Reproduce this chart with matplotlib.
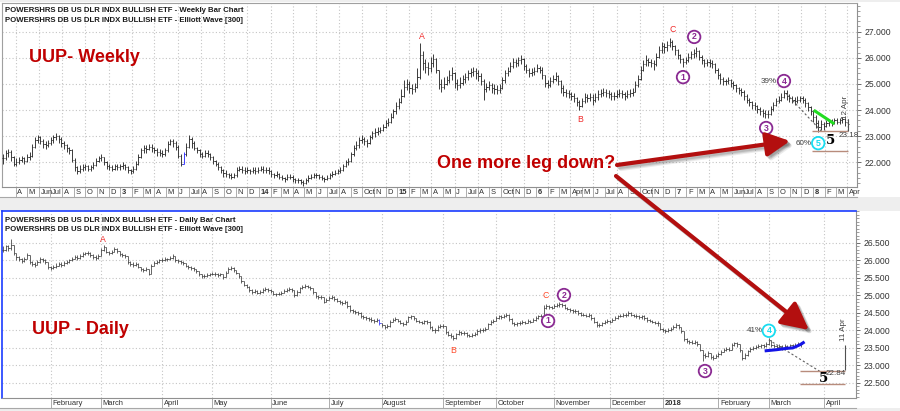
import numpy as np
import pandas as pd
import matplotlib
matplotlib.use("Agg")
import matplotlib.pyplot as plt
import matplotlib.dates as mdates
from matplotlib.patches import FancyArrowPatch, Rectangle
from matplotlib.lines import Line2D
from matplotlib.transforms import offset_copy
from matplotlib.ticker import MultipleLocator, FixedLocator, FormatStrFormatter

plt.rcParams['font.family'] = ['Liberation Sans', 'DejaVu Sans']

# ---------------- DATA ----------------
# Weekly UUP bars (one per week, starting week of 2012-02-27)
week_start = "2012-02-27"
w_close = [
22.15,22.35,22.40,22.20,21.95,22.00,22.10,22.15,22.05,22.20,
22.25,22.60,22.85,22.95,22.80,22.70,22.65,22.75,22.85,22.95,
23.00,22.90,22.75,22.65,22.55,22.45,22.10,21.80,21.65,21.75,
21.80,21.85,21.75,21.80,21.90,22.05,22.15,22.20,22.00,21.85,
21.80,21.75,21.85,21.80,21.85,21.90,21.80,21.70,21.65,21.75,
21.95,22.20,22.45,22.55,22.50,22.60,22.55,22.45,22.40,22.35,
22.30,22.45,22.70,22.80,22.75,22.60,22.25,21.95,22.30,22.60,
22.90,22.75,22.55,22.45,22.30,22.25,22.35,22.30,22.20,22.05,
21.95,21.80,21.70,21.60,21.55,21.50,21.45,21.50,21.70,21.75,
21.70,21.65,21.70,21.65,21.70,21.65,21.70,21.75,21.70,21.70,
21.65,21.55,21.50,21.55,21.45,21.40,21.35,21.45,21.45,21.35,
21.30,21.30,21.25,21.20,21.30,21.40,21.45,21.50,21.50,21.45,
21.40,21.35,21.40,21.50,21.55,21.60,21.65,21.70,21.85,22.00,
22.05,22.30,22.55,22.65,22.85,22.90,22.80,22.75,22.95,23.10,
23.15,23.20,23.25,23.35,23.50,23.55,23.75,23.95,24.15,24.30,
24.55,24.90,25.00,24.85,24.80,24.90,25.25,26.10,25.80,25.65,
25.60,25.80,25.95,25.55,25.00,24.90,25.00,25.15,25.35,25.40,
25.05,24.95,25.05,25.20,25.25,25.40,25.45,25.50,25.40,25.30,
25.10,24.80,24.90,24.95,24.85,24.80,24.75,24.85,25.15,25.40,
25.50,25.70,25.85,25.80,25.90,25.95,25.70,25.55,25.40,25.45,
25.50,25.60,25.55,25.35,25.05,24.95,25.10,25.20,25.30,25.10,
24.85,24.70,24.65,24.60,24.55,24.45,24.30,24.15,24.35,24.50,
24.45,24.50,24.40,24.50,24.60,24.65,24.70,24.65,24.60,24.55,
24.55,24.60,24.65,24.60,24.55,24.60,24.65,24.70,24.95,25.20,
25.55,25.75,25.90,25.85,25.80,25.75,26.05,26.30,26.45,26.40,
26.50,26.60,26.45,26.30,26.10,25.95,25.85,25.90,26.05,26.15,
26.20,26.25,26.05,25.90,25.80,25.85,25.80,25.75,25.55,25.35,
25.20,25.10,25.10,25.15,25.05,24.95,24.85,24.75,24.70,24.55,
24.40,24.30,24.20,24.15,24.05,23.95,23.90,23.85,23.85,24.05,
24.20,24.35,24.40,24.50,24.65,24.55,24.45,24.40,24.35,24.40,
24.45,24.40,24.25,24.10,23.95,23.75,23.50,23.35,23.45,23.40,
23.50,23.55,23.50,23.60,23.55,23.60,23.65,23.55,23.45]
w_high = [
22.30,22.45,22.50,22.45,22.25,22.15,22.20,22.25,22.20,22.30,
22.40,22.70,22.95,23.05,23.00,22.90,22.80,22.85,22.95,23.05,
23.10,23.05,22.95,22.80,22.70,22.60,22.50,22.15,21.85,21.90,
21.95,21.95,21.90,21.90,22.00,22.15,22.25,22.30,22.20,22.05,
21.95,21.90,21.95,21.95,21.95,22.00,21.95,21.85,21.75,21.85,
22.05,22.30,22.55,22.65,22.65,22.70,22.70,22.60,22.55,22.50,
22.45,22.55,22.80,22.90,22.90,22.80,22.65,22.30,22.40,22.75,
23.05,22.95,22.80,22.60,22.50,22.40,22.45,22.45,22.35,22.25,
22.10,22.00,21.85,21.75,21.70,21.60,21.60,21.60,21.80,21.85,
21.85,21.80,21.80,21.75,21.80,21.80,21.80,21.85,21.85,21.80,
21.80,21.70,21.60,21.65,21.60,21.50,21.45,21.55,21.55,21.50,
21.40,21.40,21.35,21.30,21.40,21.50,21.55,21.60,21.60,21.55,
21.50,21.45,21.50,21.60,21.65,21.70,21.75,21.80,21.95,22.10,
22.15,22.40,22.65,22.80,22.95,23.05,22.95,22.90,23.05,23.20,
23.30,23.35,23.35,23.45,23.60,23.70,23.90,24.05,24.30,24.45,
24.80,25.15,25.20,25.10,25.00,25.05,25.60,26.55,26.25,25.95,
25.85,26.05,26.15,26.00,25.55,25.20,25.25,25.30,25.55,25.65,
25.45,25.20,25.25,25.35,25.40,25.55,25.60,25.65,25.60,25.55,
25.40,25.20,25.05,25.10,25.05,25.00,24.95,25.00,25.25,25.55,
25.65,25.85,26.00,25.95,26.05,26.10,26.00,25.75,25.60,25.60,
25.65,25.75,25.70,25.65,25.35,25.15,25.25,25.35,25.45,25.35,
25.15,24.95,24.80,24.75,24.70,24.65,24.50,24.40,24.45,24.65,
24.60,24.65,24.60,24.65,24.75,24.80,24.85,24.80,24.75,24.70,
24.70,24.75,24.80,24.75,24.70,24.75,24.80,24.85,25.10,25.35,
25.70,25.90,26.10,26.00,25.95,25.90,26.20,26.45,26.60,26.55,
26.65,26.75,26.70,26.50,26.35,26.15,26.00,26.05,26.20,26.25,
26.35,26.40,26.30,26.10,25.95,25.95,25.95,25.90,25.80,25.60,
25.40,25.25,25.20,25.25,25.20,25.10,25.00,24.90,24.85,24.75,
24.60,24.45,24.35,24.30,24.20,24.10,24.05,24.00,24.00,24.15,
24.30,24.45,24.55,24.65,24.75,24.75,24.60,24.55,24.50,24.55,
24.55,24.55,24.45,24.30,24.15,24.00,23.80,23.60,23.60,23.55,
23.60,23.65,23.65,23.70,23.70,23.70,23.75,23.70,23.65]
w_low = [
21.95,22.10,22.20,22.05,21.85,21.85,21.95,22.00,21.95,22.00,
22.10,22.20,22.55,22.75,22.70,22.55,22.50,22.60,22.65,22.75,
22.85,22.75,22.60,22.50,22.40,22.30,22.00,21.65,21.55,21.60,
21.65,21.70,21.65,21.65,21.75,21.85,22.00,22.05,21.90,21.75,
21.70,21.65,21.70,21.70,21.70,21.75,21.70,21.60,21.55,21.60,
21.70,21.90,22.15,22.35,22.35,22.45,22.40,22.35,22.25,22.25,
22.20,22.25,22.40,22.65,22.60,22.45,22.15,21.85,21.95,22.25,
22.55,22.55,22.45,22.35,22.20,22.15,22.20,22.20,22.10,21.95,
21.85,21.70,21.60,21.45,21.45,21.40,21.35,21.40,21.45,21.65,
21.60,21.55,21.60,21.55,21.60,21.55,21.60,21.65,21.60,21.60,
21.55,21.45,21.40,21.45,21.35,21.30,21.25,21.30,21.35,21.25,
21.20,21.20,21.15,21.10,21.15,21.25,21.35,21.40,21.40,21.35,
21.30,21.25,21.30,21.35,21.45,21.50,21.55,21.60,21.65,21.80,
21.90,22.00,22.25,22.45,22.55,22.75,22.65,22.60,22.70,22.90,
22.95,23.05,23.10,23.20,23.30,23.40,23.50,23.70,23.85,24.05,
24.25,24.50,24.75,24.65,24.60,24.70,24.85,25.20,25.55,25.40,
25.35,25.45,25.65,25.40,24.80,24.70,24.80,24.95,25.05,25.15,
24.85,24.75,24.85,24.95,25.05,25.15,25.25,25.30,25.20,25.10,
24.95,24.40,24.70,24.75,24.65,24.60,24.60,24.65,24.80,25.05,
25.30,25.45,25.60,25.65,25.70,25.75,25.55,25.40,25.25,25.30,
25.35,25.45,25.40,25.20,24.90,24.85,24.90,25.05,25.10,24.95,
24.65,24.55,24.50,24.45,24.40,24.30,24.15,24.00,24.10,24.25,
24.30,24.35,24.20,24.30,24.40,24.50,24.55,24.50,24.45,24.40,
24.40,24.45,24.50,24.45,24.40,24.45,24.50,24.55,24.70,24.90,
25.15,25.50,25.70,25.70,25.65,25.55,25.70,26.00,26.20,26.20,
26.25,26.40,26.30,26.10,25.95,25.80,25.65,25.75,25.85,25.95,
26.00,26.05,25.90,25.75,25.65,25.70,25.65,25.60,25.40,25.20,
25.00,24.95,24.95,25.00,24.90,24.80,24.70,24.60,24.55,24.40,
24.25,24.15,24.05,24.00,23.90,23.80,23.75,23.70,23.70,23.80,
23.95,24.15,24.25,24.35,24.45,24.40,24.30,24.25,24.20,24.25,
24.30,24.25,24.10,23.95,23.80,23.55,23.30,23.15,23.25,23.25,
23.35,23.40,23.40,23.45,23.45,23.45,23.50,23.40,23.30]
w_blue_bars = [68]

w_month_labels = (
    ["A", "M", "Jun", "Jul", "A", "S", "O", "N", "D"] +
    ["3", "F", "M", "A", "M", "J", "Jul", "A", "S", "O", "N", "D"] +
    ["14", "F", "M", "A", "M", "J", "Jul", "A", "S", "Oct", "N", "D"] +
    ["15", "F", "M", "A", "M", "J", "Jul", "A", "S", "Oct", "N", "D"] +
    ["6", "F", "M", "Apr", "M", "J", "Jul", "A", "S", "Oct", "N", "D"] +
    ["7", "F", "M", "A", "M", "Jun", "Jul", "A", "S", "O", "N", "D"] +
    ["8", "F", "M", "Apr"])
w_first_month = "2012-04-01"
w_yticks = [22, 23, 24, 25, 26, 27]

# Daily UUP bars (trading days from 2017-01-05)
d_start = "2017-01-05"
nyse_holidays = ["2017-01-16", "2017-02-20", "2017-04-14", "2017-05-29", "2017-07-04",
                 "2017-09-04", "2017-11-23", "2017-12-25", "2018-01-01", "2018-01-15",
                 "2018-02-19", "2018-03-30"]
d_close = [
26.30,26.40,26.35,26.45,26.20,26.10,26.05,25.97,26.05,26.15,
25.95,25.90,25.88,25.95,26.05,26.02,25.95,25.80,25.78,25.82,
25.85,25.90,25.88,25.92,25.95,26.00,26.05,26.10,26.08,26.12,
26.18,26.20,26.22,26.15,26.10,26.08,26.12,26.30,26.38,26.25,
26.20,26.25,26.33,26.28,26.18,26.15,26.12,25.95,25.90,25.88,
25.90,25.82,25.75,25.72,25.76,25.62,25.85,25.93,25.95,26.00,
26.02,26.05,26.03,26.08,26.12,26.00,25.98,25.95,25.92,25.85,
25.80,25.78,25.75,25.70,25.60,25.56,25.55,25.58,25.60,25.62,
25.60,25.58,25.60,25.52,25.65,25.75,25.78,25.72,25.65,25.55,
25.40,25.30,25.25,25.15,25.10,25.12,25.08,25.10,25.15,25.18,
25.15,25.12,25.05,25.03,25.05,25.08,25.12,25.15,25.18,25.15,
25.00,25.10,25.20,25.25,25.28,25.25,25.22,25.10,24.98,24.95,
24.95,24.82,24.88,24.92,24.95,24.90,24.85,24.80,24.78,24.82,
24.70,24.58,24.55,24.52,24.50,24.40,24.38,24.35,24.33,24.30,
24.26,24.30,24.20,24.15,24.10,24.12,24.25,24.30,24.32,24.28,
24.22,24.18,24.25,24.38,24.40,24.35,24.28,24.25,24.22,24.26,
24.24,24.10,24.02,24.00,24.10,24.13,24.12,23.95,23.88,23.85,
23.78,23.90,23.95,23.92,23.93,23.88,23.85,23.88,23.90,23.98,
24.00,24.02,24.05,24.18,24.25,24.28,24.35,24.40,24.38,24.42,
24.45,24.32,24.22,24.18,24.20,24.22,24.25,24.22,24.28,24.25,
24.30,24.35,24.40,24.42,24.65,24.70,24.68,24.65,24.70,24.72,
24.75,24.73,24.65,24.62,24.58,24.55,24.55,24.50,24.45,24.45,
24.42,24.45,24.35,24.25,24.15,24.15,24.20,24.25,24.28,24.25,
24.30,24.35,24.40,24.42,24.45,24.43,24.50,24.45,24.42,24.40,
24.38,24.40,24.35,24.30,24.28,24.25,24.22,24.20,24.05,24.00,
23.98,24.02,24.05,24.10,24.15,24.10,23.98,23.75,23.70,23.68,
23.65,23.68,23.62,23.45,23.30,23.28,23.35,23.25,23.22,23.28,
23.32,23.38,23.45,23.48,23.45,23.58,23.63,23.60,23.45,23.22,
23.30,23.40,23.48,23.50,23.52,23.55,23.57,23.55,23.60,23.72,
23.58,23.55,23.52,23.55,23.50,23.55,23.52,23.57,23.55,23.58,
23.62,23.60]
d_high = [
26.40,26.45,26.45,26.62,26.45,26.20,26.12,26.08,26.10,26.20,
26.12,25.98,25.95,26.00,26.10,26.08,26.03,25.92,25.85,25.88,
25.92,25.95,25.95,25.98,26.00,26.05,26.10,26.15,26.14,26.18,
26.23,26.25,26.27,26.24,26.17,26.14,26.17,26.35,26.43,26.38,
26.27,26.30,26.38,26.35,26.28,26.22,26.18,26.12,25.98,25.95,
25.96,25.92,25.82,25.78,25.80,25.75,25.90,25.98,26.00,26.05,
26.07,26.10,26.08,26.13,26.17,26.12,26.04,26.00,25.98,25.92,
25.88,25.84,25.80,25.76,25.70,25.62,25.60,25.63,25.65,25.67,
25.66,25.64,25.65,25.62,25.70,25.80,25.83,25.80,25.72,25.65,
25.55,25.42,25.33,25.27,25.18,25.17,25.14,25.15,25.20,25.23,
25.21,25.18,25.13,25.08,25.10,25.13,25.17,25.20,25.23,25.21,
25.15,25.15,25.24,25.30,25.33,25.31,25.28,25.22,25.08,25.02,
25.00,24.95,24.93,24.97,25.00,24.97,24.92,24.87,24.83,24.87,
24.83,24.72,24.61,24.58,24.56,24.52,24.44,24.41,24.39,24.37,
24.33,24.35,24.32,24.22,24.16,24.17,24.30,24.35,24.37,24.34,
24.30,24.24,24.30,24.42,24.45,24.42,24.36,24.31,24.28,24.31,
24.30,24.26,24.12,24.06,24.15,24.18,24.17,24.10,23.98,23.92,
23.87,23.94,24.00,23.98,23.98,23.95,23.91,23.93,23.95,24.03,
24.06,24.07,24.10,24.22,24.30,24.33,24.40,24.45,24.44,24.47,
24.50,24.47,24.35,24.25,24.25,24.27,24.30,24.28,24.33,24.31,
24.35,24.40,24.45,24.47,24.72,24.76,24.74,24.71,24.75,24.78,
24.80,24.79,24.76,24.68,24.64,24.61,24.60,24.57,24.52,24.50,
24.48,24.50,24.47,24.37,24.27,24.20,24.25,24.30,24.33,24.31,
24.35,24.40,24.45,24.47,24.50,24.49,24.55,24.52,24.48,24.46,
24.44,24.45,24.43,24.37,24.34,24.31,24.28,24.26,24.22,24.08,
24.04,24.07,24.10,24.15,24.20,24.17,24.10,23.95,23.77,23.74,
23.72,23.74,23.70,23.60,23.45,23.36,23.40,23.36,23.30,23.34,
23.38,23.44,23.50,23.54,23.52,23.63,23.68,23.66,23.58,23.40,
23.36,23.45,23.53,23.56,23.58,23.60,23.62,23.61,23.66,23.78,
23.70,23.62,23.58,23.60,23.57,23.60,23.58,23.62,23.60,23.63,
23.67,23.66]
d_low = [
26.25,26.28,26.28,26.30,26.15,26.02,25.98,25.92,25.95,26.03,
25.90,25.85,25.82,25.86,25.93,25.96,25.90,25.75,25.72,25.75,
25.78,25.83,25.82,25.85,25.89,25.93,25.98,26.03,26.02,26.05,
26.10,26.14,26.16,26.10,26.04,26.02,26.05,26.12,26.28,26.20,
26.15,26.18,26.24,26.22,26.13,26.10,26.06,25.90,25.85,25.82,
25.84,25.78,25.70,25.66,25.70,25.58,25.62,25.85,25.89,25.93,
25.96,25.99,25.97,26.01,26.05,25.96,25.93,25.90,25.86,25.80,
25.75,25.73,25.70,25.64,25.55,25.51,25.50,25.52,25.55,25.57,
25.55,25.53,25.54,25.48,25.52,25.63,25.72,25.67,25.60,25.50,
25.35,25.26,25.20,25.10,25.05,25.06,25.03,25.04,25.08,25.12,
25.10,25.07,25.00,24.98,25.00,25.02,25.06,25.09,25.12,25.10,
24.95,24.99,25.08,25.19,25.22,25.20,25.16,25.05,24.93,24.90,
24.90,24.78,24.80,24.86,24.89,24.85,24.80,24.75,24.73,24.76,
24.65,24.53,24.50,24.47,24.44,24.35,24.33,24.30,24.28,24.25,
24.21,24.23,24.15,24.10,24.05,24.06,24.10,24.24,24.26,24.23,
24.17,24.13,24.16,24.23,24.34,24.30,24.23,24.20,24.17,24.19,
24.18,24.05,23.97,23.94,23.98,24.07,24.06,23.90,23.83,23.79,
23.72,23.76,23.88,23.87,23.87,23.82,23.80,23.82,23.84,23.88,
23.94,23.96,23.99,24.04,24.15,24.22,24.27,24.33,24.33,24.36,
24.38,24.27,24.17,24.13,24.14,24.16,24.19,24.17,24.20,24.20,
24.24,24.28,24.33,24.37,24.40,24.62,24.62,24.60,24.63,24.66,
24.68,24.67,24.60,24.57,24.53,24.50,24.49,24.45,24.40,24.40,
24.37,24.38,24.30,24.20,24.10,24.09,24.13,24.19,24.22,24.20,
24.24,24.29,24.34,24.37,24.39,24.38,24.42,24.40,24.37,24.35,
24.33,24.34,24.30,24.25,24.23,24.20,24.17,24.14,24.00,23.95,
23.93,23.96,23.99,24.04,24.08,24.04,23.92,23.70,23.64,23.62,
23.60,23.62,23.56,23.40,23.12,23.20,23.24,23.18,23.15,23.20,
23.25,23.30,23.37,23.42,23.40,23.44,23.56,23.54,23.38,23.15,
23.18,23.28,23.38,23.44,23.46,23.49,23.51,23.49,23.53,23.58,
23.53,23.49,23.46,23.49,23.45,23.48,23.46,23.50,23.49,23.52,
23.55,23.54]
d_blue_bars = [142]
d_month_labels = ["February", "March", "April", "May", "June", "July", "August",
                  "September", "October", "November", "December", "2018",
                  "February", "March", "April"]
d_yticks = [22.5, 23.0, 23.5, 24.0, 24.5, 25.0, 25.5, 26.0, 26.5]

# overlay lines
d_blue_idx = [288, 292, 296, 298, 299, 301, 302]
d_blue_val = [23.42, 23.45, 23.49, 23.50, 23.53, 23.60, 23.65]
w_green_idx = [305.7, 312.5]
w_green_val = [23.96, 23.50]

# ---------------- LAYOUT ----------------
W, H = 900, 411
fig = plt.figure(figsize=(9, 4.11), dpi=100, facecolor="white")


def fx(px):
    return px / W


def fy(py):
    return 1 - py / H


GRAY_BG = "#eeeeee"
for (y0, y1) in [(0, 2), (197, 211), (408, 411)]:
    fig.add_artist(Rectangle((0, fy(y1)), 1, fy(y0) - fy(y1), fc=GRAY_BG, ec="none", zorder=-5))
fig.add_artist(Line2D([0, fx(857)], [fy(197.5), fy(197.5)], color="#a8a8a8", lw=0.8))
fig.add_artist(Line2D([0, fx(856)], [fy(408), fy(408)], color="#a8a8a8", lw=0.8))

axw = fig.add_axes([fx(2), fy(187), fx(857) - fx(2), fy(3) - fy(187)])
axd = fig.add_axes([fx(2), fy(398), fx(856) - fx(2), fy(211) - fy(398)])

BAR = "#2e2e2e"
BLUE_BAR = "#3030ff"
GRID = dict(color="#c4c4c4", lw=0.8, ls=(0, (1, 2)), zorder=0)
PURPLE = "#8a2a92"
CYAN = "#18dcf0"
RED_L = "#f02a2a"
BROWN = "#b88c7c"


def draw_bars(ax, x, o, h, l, c, tick, blue_idx, lw, color):
    x = np.asarray(x, float)
    o, h, l, c = map(lambda a: np.asarray(a, float), (o, h, l, c))
    cols = [BLUE_BAR if i in blue_idx else color for i in range(len(x))]
    lo = np.minimum(l, np.minimum(o, c))
    hi = np.maximum(h, np.maximum(o, c))
    ax.vlines(x, lo, hi, colors=cols, lw=lw, zorder=3)
    ax.hlines(o, x - tick, x, colors=cols, lw=lw, zorder=3)
    ax.hlines(c, x, x + tick, colors=cols, lw=lw, zorder=3)


def style_axis(ax, ymaj, ymin_step, edge):
    ax.set_facecolor("white")
    ax.yaxis.tick_right()
    ax.yaxis.set_major_locator(FixedLocator(ymaj))
    ax.yaxis.set_minor_locator(MultipleLocator(ymin_step))
    ax.yaxis.set_major_formatter(FormatStrFormatter("%.3f"))
    ax.tick_params(axis="y", which="major", length=3, width=0.6, color="#555555",
                   labelsize=6.2, labelcolor="#333333", pad=2.5)
    ax.tick_params(axis="y", which="minor", length=2, width=0.5, color="#777777")
    ax.tick_params(axis="x", which="major", length=7.2, width=0.6, color="#a0a0a0",
                   direction="out", labelbottom=False)
    for s in ["right", "bottom"]:
        ax.spines[s].set_color("#909090")
        ax.spines[s].set_linewidth(0.8)
    for s in ["left", "top"]:
        ax.spines[s].set_color(edge)
        ax.spines[s].set_linewidth(1.2 if edge != "#a0a0a0" else 0.8)
    for yv in ymaj:
        ax.axhline(yv, **GRID)


def month_labels(ax, positions, labels):
    tr = offset_copy(ax.get_xaxis_transform(), fig=fig, x=1.5, y=-5.2, units="dots")
    for p, lab in zip(positions, labels):
        ax.text(p, 0, lab, transform=tr, ha="left", va="center", fontsize=5.4,
                color="#303030", fontweight="bold" if lab.isdigit() else "normal",
                clip_on=False)


def circled(ax, x, y, s, col):
    ax.text(x, y, s, ha="center", va="center", fontsize=6.3, color=col, fontweight="bold",
            bbox=dict(boxstyle="circle,pad=0.2", fc="white", ec=col, lw=1.3), zorder=6)


# ---------------- WEEKLY PANEL ----------------
w_dates = pd.date_range(week_start, periods=len(w_close), freq="7D")
w_x = mdates.date2num(w_dates)
w0 = w_x[0]


def wx(w):
    return w0 + 7.0 * np.asarray(w, float)


w_open = [w_close[0]] + w_close[:-1]
draw_bars(axw, w_x, w_open, w_high, w_low, w_close, 3.0, w_blue_bars, 0.65, BAR)
axw.set_xlim(wx(-0.38), wx(321.5))
axw.set_ylim(21.05, 28.10)
style_axis(axw, w_yticks, 0.2, "#a0a0a0")
w_ticks = pd.date_range(w_first_month, periods=len(w_month_labels), freq="MS")
w_tick_x = mdates.date2num(w_ticks)
axw.set_xticks(w_tick_x)
for t, d in zip(w_tick_x, w_ticks):
    if d.month % 2 == 0:
        axw.axvline(t, **GRID)
month_labels(axw, w_tick_x, w_month_labels)

# weekly Elliott annotations
axw.text(wx(157.7), 26.80, "A", color=RED_L, fontsize=6.3, ha="center", va="center")
axw.text(wx(217.2), 23.65, "B", color=RED_L, fontsize=6.3, ha="center", va="center")
axw.text(wx(252.3), 27.07, "C", color=RED_L, fontsize=6.3, ha="center", va="center")
circled(axw, wx(256.0), 25.26, "1", PURPLE)
circled(axw, wx(260.2), 26.80, "2", PURPLE)
circled(axw, wx(287.3), 23.31, "3", PURPLE)
circled(axw, wx(294.0), 25.11, "4", PURPLE)
circled(axw, wx(306.9), 22.73, "5", CYAN)
axw.text(wx(291.3), 25.11, "39%", color="#404040", fontsize=5.8, ha="right", va="center")
axw.text(wx(304.4), 22.70, "60%", color="#404040", fontsize=5.8, ha="right", va="center")
axw.plot(wx([295.0, 308.7]), [24.61, 23.12], color="#606060", lw=0.8, ls=(0, (2, 2)), zorder=4)
axw.plot(wx(w_green_idx), w_green_val, color="#22dd22", lw=2.2, zorder=5)
axw.hlines([23.20, 22.43], wx(304.6), wx(318.1), color=BROWN, lw=1.0, zorder=4)
axw.vlines(wx(318.1), 23.20, 23.65, color="#505050", lw=0.8, zorder=4)
axw.text(wx(317.0), 24.11, "12 Apr", rotation=90, fontsize=5.8, color="#404040",
         ha="center", va="center")
axw.text(wx(311.4), 22.85, "5", fontsize=9.5, fontweight="bold", family="DejaVu Serif",
         color="black", ha="center", va="center", zorder=6)
axw.text(wx(314.6), 23.04, "23.18", fontsize=5.8, color="#404040", ha="left", va="center", zorder=6)

# ---------------- DAILY PANEL ----------------
d_days = pd.bdate_range(d_start, "2018-04-30")
d_days = d_days[~d_days.isin(pd.to_datetime(nyse_holidays))]
d_x = np.arange(len(d_close))
d_open = [d_close[0]] + d_close[:-1]
draw_bars(axd, d_x, d_open, d_high, d_low, d_close, 0.5, d_blue_bars, 0.55, "#3a3a3a")
axd.set_xlim(-0.38, 321.9)
axd.set_ylim(22.07, 27.41)
style_axis(axd, d_yticks, 0.1, "#1a3cff")
per = pd.Series(np.arange(len(d_days)), index=d_days)
first_idx = per.groupby([d_days.year, d_days.month]).min().values
d_tick_x = [i for i in first_idx if i > 0][:len(d_month_labels)]
axd.set_xticks(d_tick_x)
for t in d_tick_x:
    axd.axvline(t, **GRID)
month_labels(axd, d_tick_x, d_month_labels)

axd.text(37.7, 26.61, "A", color=RED_L, fontsize=6.3, ha="center", va="center")
axd.text(169.8, 23.44, "B", color="#ff4a2a", fontsize=6.3, ha="center", va="center")
axd.text(204.9, 24.99, "C", color="#ff4a2a", fontsize=6.3, ha="center", va="center")
circled(axd, 205.7, 24.27, "1", PURPLE)
circled(axd, 211.7, 25.01, "2", PURPLE)
circled(axd, 264.9, 22.84, "3", PURPLE)
circled(axd, 289.0, 23.99, "4", CYAN)
axd.text(286.6, 23.99, "41%", color="#404040", fontsize=5.8, ha="right", va="center")
axd.plot([289.0, 308.7], [23.73, 22.81], color="#606060", lw=0.8, ls=(0, (2, 2)), zorder=4)
axd.plot(d_blue_idx, d_blue_val, color="#1414e6", lw=2.2, zorder=5)
axd.hlines([22.85, 22.47], 300.7, 317.9, color=BROWN, lw=1.0, zorder=4)
axd.vlines(317.7, 22.87, 23.59, color="#505050", lw=0.8, zorder=4)
axd.text(317.3, 24.01, "11 Apr", rotation=90, fontsize=5.8, color="#404040",
         ha="center", va="center")
axd.text(309.5, 22.64, "5", fontsize=9.5, fontweight="bold", family="DejaVu Serif",
         color="black", ha="center", va="center", zorder=6)
axd.text(310.6, 22.76, "22.84", fontsize=5.8, color="#404040", ha="left", va="center", zorder=6)

# ---------------- TITLES / TEXT ----------------
TITLE = dict(fontsize=5.6, fontweight="bold", color="#1a1a1a", va="center", ha="left")
fig.text(fx(5), fy(11), "POWERSHRS DB US DLR INDX BULLISH ETF - Weekly Bar Chart", **TITLE)
fig.text(fx(5), fy(20), "POWERSHRS DB US DLR INDX BULLISH ETF - Elliott Wave [300]", **TITLE)
fig.text(fx(5), fy(220), "POWERSHRS DB US DLR INDX BULLISH ETF - Daily Bar Chart", **TITLE)
fig.text(fx(5), fy(229), "POWERSHRS DB US DLR INDX BULLISH ETF - Elliott Wave [300]", **TITLE)

BIG = dict(fontsize=13, fontweight="bold", color="#c00000", va="center", ha="left")
fig.text(fx(29), fy(57), "UUP- Weekly", **BIG)
fig.text(fx(32), fy(329), "UUP - Daily", **BIG)
fig.text(fx(437), fy(164), "One more leg down?", zorder=10, **BIG)


def fig_arrow(p0, p1, scale):
    for k, (dx, dy, a) in enumerate([(4, 4, 0.12), (3, 3, 0.18), (2, 2, 0.22)]):
        sh = FancyArrowPatch((fx(p0[0] + dx), fy(p0[1] + dy)), (fx(p1[0] + dx), fy(p1[1] + dy)),
                             transform=fig.transFigure,
                             arrowstyle="-|>,head_length=0.55,head_width=0.28",
                             mutation_scale=scale, lw=3.0, color="#606060", alpha=a,
                             shrinkA=0, shrinkB=0, zorder=9)
        fig.add_artist(sh)
    ar = FancyArrowPatch((fx(p0[0]), fy(p0[1])), (fx(p1[0]), fy(p1[1])),
                         transform=fig.transFigure,
                         arrowstyle="-|>,head_length=0.55,head_width=0.28",
                         mutation_scale=scale, lw=3.0, color="#b30f0f",
                         shrinkA=0, shrinkB=0, zorder=10)
    fig.add_artist(ar)


fig_arrow((617, 165), (790, 141), 26)
fig_arrow((616, 176), (809, 330), 30)

fig.savefig("out.png", dpi=100, facecolor=fig.get_facecolor())
